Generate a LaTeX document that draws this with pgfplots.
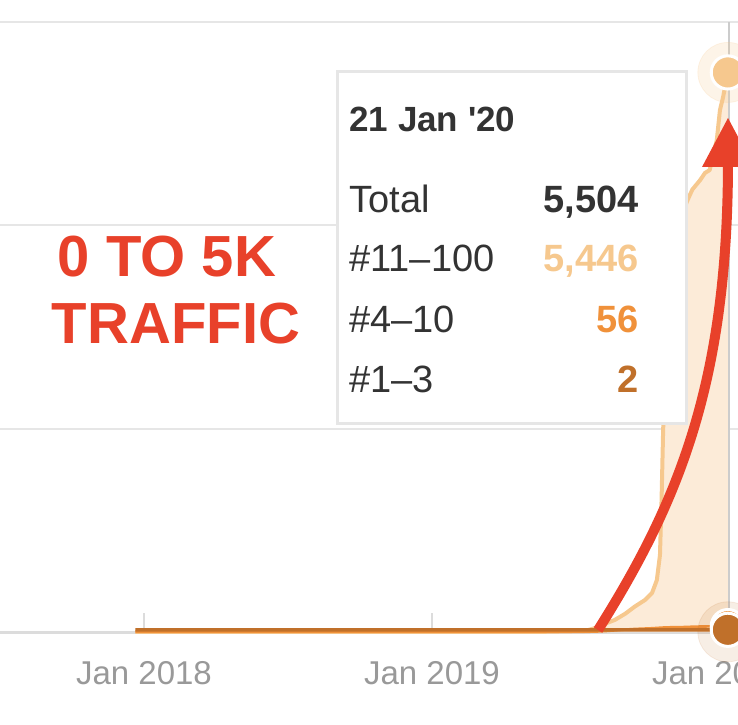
\documentclass[border=0pt]{standalone}
\usepackage{pgfplots}
\usepackage{pgfplotstable}
\pgfplotsset{compat=1.18}
\usepackage{fontspec}
\setmainfont{Liberation Sans}

\definecolor{txtdark}{HTML}{333333}
\definecolor{peachline}{HTML}{F6C88E}
\definecolor{peachfill}{HTML}{FCEBD8}
\definecolor{midorange}{HTML}{F0913A}
\definecolor{brownish}{HTML}{C0702A}
\definecolor{annored}{HTML}{E8412A}
\definecolor{gridgray}{HTML}{E6E6E6}
\definecolor{axisgray}{HTML}{DCDCDC}
\definecolor{ticktxt}{HTML}{999999}

% d = days since 1 Jan 2018; a = #1-3, b = #4-10, c = #11-100
\pgfplotstableread{
d    a  b   c
-11  1  0   0
100  1  0   0
300  1  0   0
500  1  0   0
559  1  1   8
572  1  3   36
584  1  8   71
597  1  15  104
610  2  22  156
622  2  28  220
635  2  32  281
644  2  35  348
650  2  38  470
654  2  40  718
656  2  40  1258
658  2  42  1946
664  2  44  3024
672  2  45  3713
681  2  46  4052
689  2  48  4199
695  2  50  4300
705  2  52  4392
711  2  52  4461
717  2  54  4488
726  2  55  4782
730  2  55  5077
734  2  56  5204
740  2  56  5446
}\datatable

\begin{document}
\begin{tikzpicture}
\begin{axis}[
	at={(0,46pt)},
	anchor=south west,
	scale only axis,
	width=369pt,
	height=305pt,
	xmin=-182.5, xmax=752.9,
	ymin=0, ymax=6000,
	axis x line*=bottom,
	axis y line*=left,
	x axis line style={draw=axisgray, line width=1.5pt, -},
	y axis line style={draw=none},
	xtick={0,365,730},
	xticklabels={Jan 2018,Jan 2019,Jan 2020},
	xtick align=inside,
	major tick length=9.5pt,
	xtick style={draw=axisgray, line width=1pt},
	xticklabel style={font=\fontsize{16.5}{20}\selectfont, text=ticktxt, anchor=base, yshift=-26pt},
	ytick={0,2000,4000,6000},
	yticklabels={},
	ytick style={draw=none},
	ymajorgrids=true,
	grid style={draw=gridgray, line width=1pt},
	clip=false,
]

% area of the total (all positions)
\addplot[fill=peachfill, draw=none] table[x=d, y expr=\thisrow{a}+\thisrow{b}+\thisrow{c}] {\datatable} \closedcycle;

% hover line
\addplot[draw=black!20, line width=1pt] coordinates {(742,0) (742,6000)};

% series lines
\addplot[draw=peachline, line width=2pt, line join=round] table[x=d, y expr=\thisrow{a}+\thisrow{b}+\thisrow{c}] {\datatable};
\addplot[draw=midorange, line width=1.3pt, line join=round] table[x=d, y expr=\thisrow{a}+\thisrow{b}] {\datatable};
\addplot[draw=brownish, line width=1.7pt, yshift=1pt] table[x=d, y=a] {\datatable};

% hover markers
\addplot[only marks, mark=*, mark size=15pt, color=peachline, opacity=0.2, restrict x to domain=739:741]
	table[x=d, y expr=\thisrow{a}+\thisrow{b}+\thisrow{c}] {\datatable};
\addplot[only marks, mark=*, mark size=15pt, color=brownish, opacity=0.12, restrict x to domain=739:741]
	table[x=d, y=a] {\datatable};
\addplot[only marks, mark=*, mark size=8.3pt, mark options={fill=peachline, draw=white, line width=1.5pt}, restrict x to domain=739:741]
	table[x=d, y expr=\thisrow{a}+\thisrow{b}+\thisrow{c}] {\datatable};
\addplot[only marks, mark=*, mark size=8.3pt, mark options={fill=midorange, draw=white, line width=1.5pt}, restrict x to domain=739:741]
	table[x=d, y expr=\thisrow{a}+\thisrow{b}] {\datatable};
\addplot[only marks, mark=*, mark size=8.3pt, mark options={fill=brownish, draw=white, line width=1.5pt}, restrict x to domain=739:741, yshift=1pt]
	table[x=d, y=a] {\datatable};
\end{axis}

% annotations, in pixel units of the screenshot (y downwards)
\begin{scope}[x=0.5pt, y=-0.5pt, shift={(0,362pt)}]
	% tooltip
	\draw[draw=gridgray, line width=1.5pt, fill=white] (337,72) rectangle (686,423);
	\node[anchor=base west, inner sep=0, text=txtdark, font=\fontsize{17.5}{20}\selectfont\bfseries\addfontfeatures{Ligatures=TeXOff}] at (349,132) {21 Jan '20};
	\begin{scope}[every node/.style={inner sep=0, font=\fontsize{19}{22}\selectfont}]
		\node[anchor=base west, text=txtdark] at (349,213) {Total};
		\node[anchor=base west, text=txtdark] at (349,272) {\#11–100};
		\node[anchor=base west, text=txtdark] at (349,332) {\#4–10};
		\node[anchor=base west, text=txtdark] at (349,392) {\#1–3};
		\node[anchor=base east, text=txtdark, font=\fontsize{19}{22}\selectfont\bfseries] at (639,213) {5,504};
		\node[anchor=base east, text=peachline, font=\fontsize{19}{22}\selectfont\bfseries] at (639,272) {5,446};
		\node[anchor=base east, text=midorange, font=\fontsize{19}{22}\selectfont\bfseries] at (639,332) {56};
		\node[anchor=base east, text=brownish, font=\fontsize{19}{22}\selectfont\bfseries] at (639,392) {2};
	\end{scope}
	% red call-out
	\node[anchor=base, inner sep=0, text=annored, font=\fontsize{29}{32}\selectfont\bfseries] at (167,277) {0 TO 5K};
	\node[anchor=base, inner sep=0, text=annored, font=\fontsize{29}{32}\selectfont\bfseries] at (176,343) {TRAFFIC};
	\draw[annored, line width=5pt] (598,630) .. controls (680,500) and (728,380) .. (728,160);
	\fill[annored] (728,118) -- (754,167) -- (702,167) -- cycle;
\end{scope}

\pgfresetboundingbox
\useasboundingbox (0,0) rectangle (369pt,362pt);
\end{tikzpicture}
\end{document}
